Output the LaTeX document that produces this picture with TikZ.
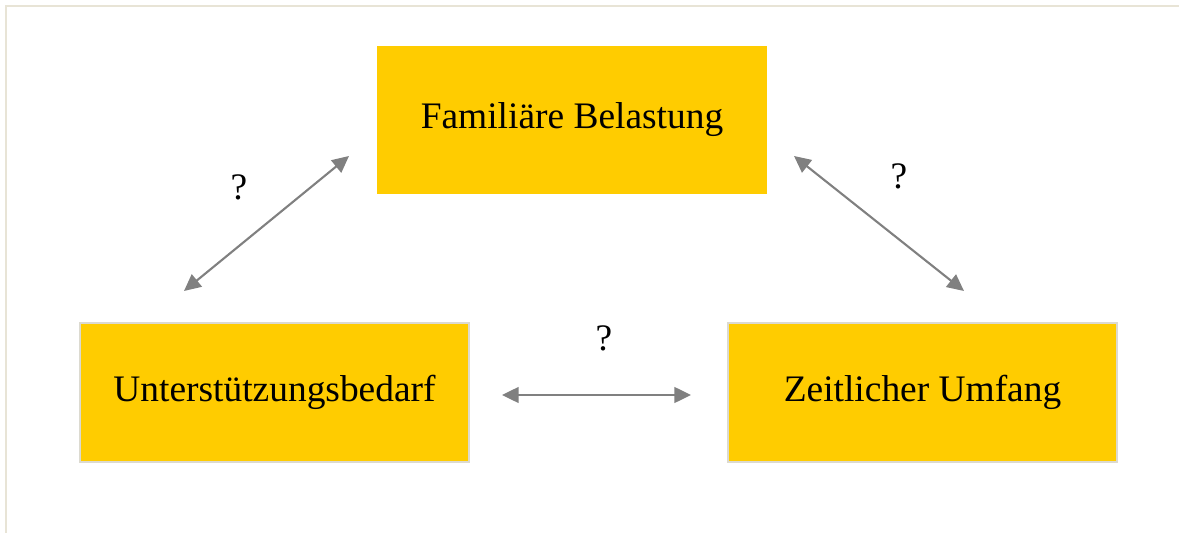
\documentclass[tikz,border=0pt]{standalone}
\usepackage{fontspec}
\setmainfont{Liberation Serif}
\usetikzlibrary{arrows.meta, positioning}

\definecolor{boxyellow}{HTML}{FFCC00}
\definecolor{boxedge}{HTML}{DCDAD0}
\definecolor{frameline}{HTML}{E8E4D6}
\definecolor{arrowgray}{HTML}{808080}

\begin{document}
\begin{tikzpicture}[x=0.02cm, y=-0.02cm,
					<->,
					>={Triangle[length=9.5pt, width=9pt]},
					every node/.style={font=\fontsize{21.3}{24}\selectfont},
					factor/.style={rectangle, fill=boxyellow, minimum width=7.78cm, minimum height=2.78cm, inner sep=0pt},
					link/.style={draw=arrowgray, line width=1.2pt}]

	\useasboundingbox (0,0) rectangle (1179,533);
	\draw[-, frameline, line width=1pt] (6,533) -- (6,6) -- (1179,6);

	\node[factor, minimum width=7.8cm, minimum height=2.96cm] (fam) at (572,120) {Familiäre Belastung};
	\node[factor, draw=boxedge, line width=1pt] (unt) at (274.5,392.5) {Unterstützungsbedarf};
	\node[factor, draw=boxedge, line width=1pt] (zeit) at (922.5,392.5) {Zeitlicher Umfang};

	\coordinate (l1) at (184,291);
	\coordinate (l2) at (349,156);
	\coordinate (r1) at (794,156);
	\coordinate (r2) at (964,291);
	\coordinate (h1) at (502,395);
	\coordinate (h2) at (691,395);

	\draw[link] (l1) -- (l2);
	\draw[link] (r1) -- (r2);
	\draw[link] (h1) -- (h2);

	\node (qleft) at (239,187) {?};
	\node (qright) at (899,176) {?};
	\node (qmid) at (604,338) {?};
\end{tikzpicture}
\end{document}
